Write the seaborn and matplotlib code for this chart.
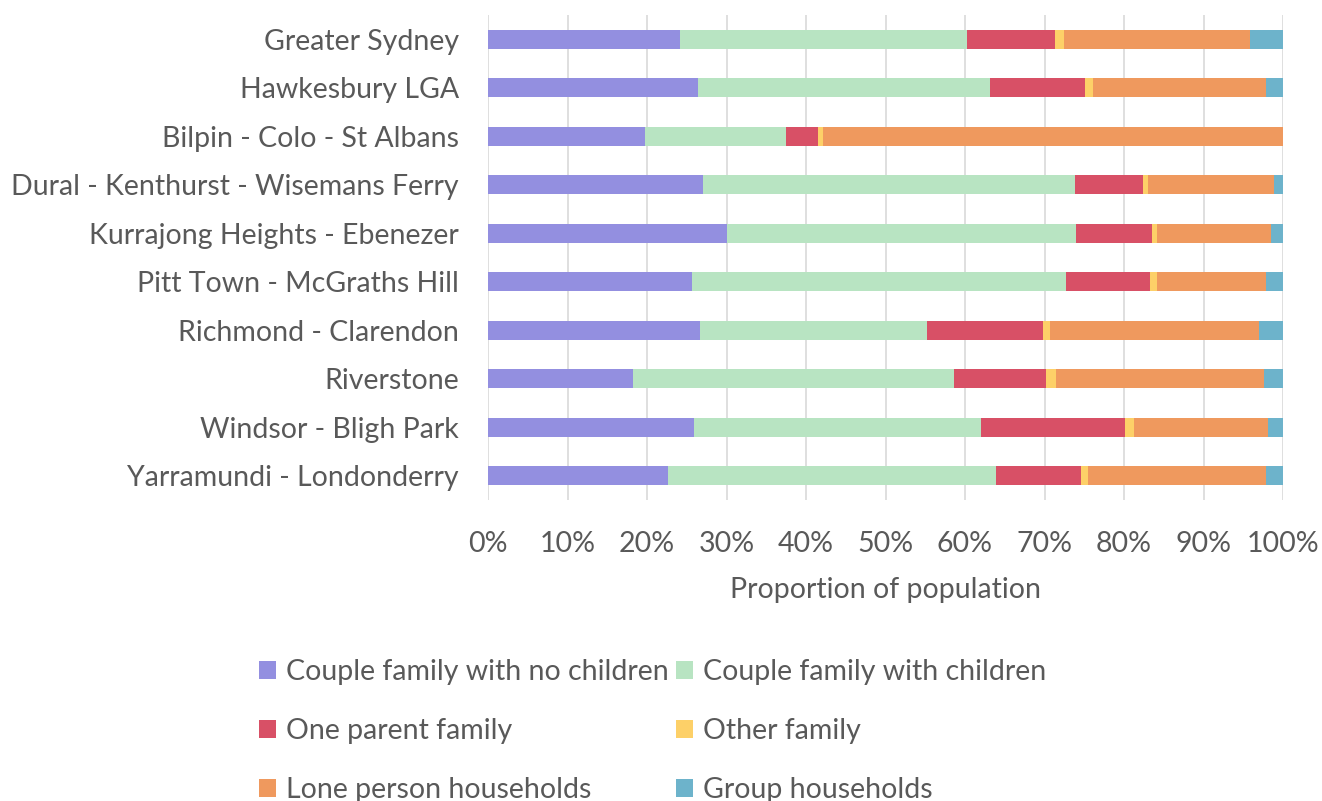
import matplotlib
matplotlib.use("Agg")
import matplotlib.pyplot as plt
import seaborn as sns
import pandas as pd
import numpy as np
from matplotlib.patches import Patch
from matplotlib.ticker import PercentFormatter

areas = ["Greater Sydney", "Hawkesbury LGA", "Bilpin - Colo - St Albans",
         "Dural - Kenthurst - Wisemans Ferry", "Kurrajong Heights - Ebenezer",
         "Pitt Town - McGraths Hill", "Richmond - Clarendon", "Riverstone",
         "Windsor - Bligh Park", "Yarramundi - Londonderry"]

series_names = ["Couple family with no children", "Couple family with children",
                "One parent family", "Other family",
                "Lone person households", "Group households"]

couple_no_children = [24.2, 26.4, 19.7, 27.1, 30.0, 25.6, 26.7, 18.3, 25.9, 22.7]
couple_children    = [36.1, 36.8, 17.8, 46.7, 44.0, 47.1, 28.5, 40.3, 36.1, 41.2]
one_parent         = [11.0, 11.9, 4.0, 8.6, 9.5, 10.6, 14.6, 11.6, 18.1, 10.7]
other_family       = [1.2, 1.0, 0.6, 0.6, 0.6, 0.8, 0.9, 1.3, 1.1, 0.9]
lone_person        = [23.3, 21.7, 57.9, 15.9, 14.4, 13.7, 26.3, 26.1, 16.9, 22.4]
group_households   = [4.2, 2.2, 0.0, 1.1, 1.5, 2.2, 3.0, 2.4, 1.9, 2.1]

colors = ["#938fe0", "#b8e4c2", "#d85066", "#fdd068", "#ef995e", "#6db3cb"]

values = [couple_no_children, couple_children, one_parent, other_family,
          lone_person, group_households]

df = pd.DataFrame({name: v for name, v in zip(series_names, values)}, index=areas)
df = df.div(df.sum(axis=1), axis=0) * 100
cum = df.cumsum(axis=1)

sns.set_theme(style="white")
plt.rcParams['font.family'] = ['Lato', 'DejaVu Sans']

FS = 20.5
TXT = "#595959"

fig = plt.figure(figsize=(13.22, 8.01), dpi=100)
ax = fig.add_axes([488/1322, 1-500/801, (1283-488)/1322, 485/801])

for i in reversed(range(len(series_names))):
    d = pd.DataFrame({"area": areas, "value": cum.iloc[:, i].values})
    sns.barplot(data=d, x="value", y="area", orient="h", color=colors[i],
                width=0.4, saturation=1, ax=ax, zorder=2, linewidth=0)

ax.set_xlim(0, 100)
ax.set_ylim(9.5, -0.5)
ax.set_xticks(np.arange(0, 101, 10))
ax.xaxis.set_major_formatter(PercentFormatter(decimals=0))
ax.grid(axis="x", color="#d9d9d9", linewidth=1.2, zorder=0)
ax.set_axisbelow(True)
for s in ax.spines.values():
    s.set_visible(False)
ax.tick_params(axis="both", length=0, labelsize=FS, labelcolor=TXT)
ax.tick_params(axis="y", pad=21)
ax.tick_params(axis="x", pad=22)
ax.set_ylabel("")
ax.set_xlabel("Proportion of population", fontsize=FS, color=TXT, labelpad=15)

handles = [Patch(facecolor=c, edgecolor="none") for c in colors]
order = [0, 2, 4, 1, 3, 5]
leg = fig.legend([handles[k] for k in order], [series_names[k] for k in order],
                 ncol=2, loc="center", bbox_to_anchor=(653/1322, 1-731/801),
                 frameon=False, fontsize=FS, labelspacing=1.15,
                 handlelength=0.6, handleheight=0.6, handletextpad=0.35,
                 columnspacing=0.25)
for t in leg.get_texts():
    t.set_color(TXT)

fig.savefig("out.png", dpi=100)
